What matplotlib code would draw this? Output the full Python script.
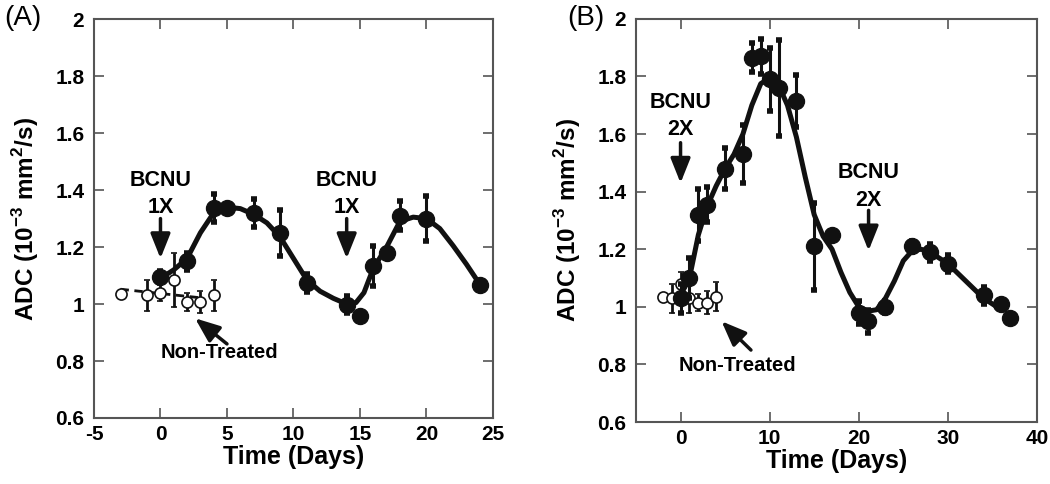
import numpy as np
import matplotlib.pyplot as plt

plt.rcParams['font.family'] = ['Liberation Sans', 'DejaVu Sans']
plt.rcParams['mathtext.fontset'] = 'custom'
plt.rcParams['mathtext.rm'] = 'Liberation Sans'
plt.rcParams['mathtext.bf'] = 'Liberation Sans:bold'

# ---- panel A data
a_days = [0, 2, 4, 5, 7, 9, 11, 14, 15, 16, 17, 18, 20, 24]
a_adc = [1.095, 1.15, 1.337, 1.337, 1.32, 1.25, 1.074, 0.997, 0.958, 1.133, 1.18, 1.31, 1.30, 1.067]
a_err = [0.02, 0.03, 0.05, 0.0, 0.05, 0.08, 0.03, 0.03, 0.0, 0.07, 0.0, 0.05, 0.08, 0.0]

a_nt_days = [-3, -1, 0, 1, 2, 3, 4]
a_nt_adc = [1.035, 1.03, 1.04, 1.085, 1.007, 1.007, 1.03]
a_nt_err = [0.01, 0.055, 0.03, 0.095, 0.03, 0.04, 0.055]
a_nt_fit_x = [-3, 3]
a_nt_fit_y = [1.052, 1.022]

a_curve_x = [0, 1, 2, 3, 4, 5, 6, 7, 8, 9, 10, 11, 12, 13, 14, 14.7, 15.3, 16, 17, 18, 19, 20, 21, 22, 23, 24]
a_curve_y = [1.09, 1.12, 1.16, 1.25, 1.32, 1.34, 1.335, 1.315, 1.285, 1.235, 1.16, 1.085, 1.045, 1.02, 1.0, 1.005, 1.04,
             1.125, 1.2, 1.29, 1.305, 1.30, 1.265, 1.205, 1.14, 1.07]

# ---- panel B data
b_days = [0, 1, 2, 3, 5, 7, 8, 9, 10, 11, 13, 15, 17, 20, 21, 23, 26, 28, 30, 34, 36, 37]
b_adc = [1.03, 1.10, 1.32, 1.355, 1.48, 1.53, 1.865, 1.87, 1.79, 1.76, 1.715, 1.21, 1.25, 0.98, 0.95, 1.0,
         1.21, 1.19, 1.15, 1.04, 1.01, 0.96]
b_err = [0.05, 0.07, 0.09, 0.06, 0.07, 0.10, 0.05, 0.06, 0.11, 0.165, 0.09, 0.15, 0.0, 0.04, 0.04, 0.02,
         0.02, 0.03, 0.03, 0.03, 0.0, 0.0]

b_nt_days = [-2, -1, 0, 1, 2, 3, 4]
b_nt_adc = [1.035, 1.03, 1.08, 1.03, 1.015, 1.015, 1.035]
b_nt_err = [0.01, 0.05, 0.04, 0.05, 0.03, 0.04, 0.05]

b_curve_x = [0, 1, 2, 3, 4, 5, 6, 7, 8, 9, 10, 11, 12, 13, 14, 15, 16, 17, 18, 19, 20, 21, 22, 23, 24, 25,
             26, 27, 28, 29, 30, 31, 32, 33, 34, 35, 36]
b_curve_y = [1.04, 1.10, 1.25, 1.35, 1.42, 1.48, 1.53, 1.60, 1.70, 1.775, 1.795, 1.77, 1.70, 1.59, 1.45,
             1.32, 1.245, 1.2, 1.12, 1.05, 1.0, 0.985, 0.99, 1.03, 1.09, 1.16, 1.195, 1.2, 1.19, 1.17,
             1.15, 1.12, 1.09, 1.06, 1.03, 1.01, 0.99]

fig = plt.figure(figsize=(10.5, 4.84), dpi=100)
axA = fig.add_axes([0.0895, 0.1364, 0.380, 0.824])
axB = fig.add_axes([0.6057, 0.128, 0.3819, 0.833])

spine_col = '#555555'
ink = '#111111'
arrow_style = '-|>,head_length=1.5,head_width=0.6'


def style(ax, xlim, xticks):
    ax.set_xlim(*xlim)
    ax.set_ylim(0.6, 2.0)
    ax.set_xticks(xticks)
    ax.set_yticks(np.arange(0.6, 2.01, 0.2))
    ax.set_yticklabels(['0.6', '0.8', '1', '1.2', '1.4', '1.6', '1.8', '2'])
    ax.set_xticklabels([str(t) for t in xticks])
    ax.tick_params(direction='in', top=True, right=True, length=7, width=1.2, color=spine_col,
                   labelsize=15, pad=7)
    ax.tick_params(axis='x', pad=5)
    for lab in ax.get_xticklabels() + ax.get_yticklabels():
        lab.set_fontweight('bold')
    for s in ax.spines.values():
        s.set_color(spine_col)
        s.set_linewidth(1.5)
    ax.set_xlabel('Time (Days)', fontsize=18, fontweight='bold', labelpad=1)
    ax.set_ylabel('ADC (10$^{\\mathbf{-3}}$ mm$^{\\mathbf{2}}$/s)', fontsize=17.5, fontweight='bold', labelpad=10)


def draw(ax, days, adc, err, nt_days, nt_adc, nt_err, cx, cy):
    ax.plot(cx, cy, color=ink, lw=3.6, solid_capstyle='round', solid_joinstyle='round', zorder=3)
    ax.errorbar(nt_days, nt_adc, yerr=nt_err, fmt='o', ms=8, mfc='white', mec=ink, mew=1.2,
                ecolor=ink, elinewidth=2, capsize=2.5, capthick=3.5, zorder=2)
    ax.errorbar(days, adc, yerr=err, fmt='o', ms=11.5, mfc=ink, mec=ink,
                ecolor=ink, elinewidth=2.2, capsize=2.5, capthick=4, zorder=4)


def arrow(ax, x, y0, y1):
    ax.annotate('', xy=(x, y1), xytext=(x, y0),
                arrowprops=dict(arrowstyle=arrow_style, color=ink, lw=2.5, shrinkA=0, shrinkB=0),
                zorder=5)


def label2(ax, x, y, top, bottom):
    ax.text(x, y, top, ha='center', va='center', fontsize=15.5, fontweight='bold')
    ax.text(x, y - 0.095, bottom, ha='center', va='center', fontsize=15.5, fontweight='bold')


style(axA, (-5, 25), [-5, 0, 5, 10, 15, 20, 25])
draw(axA, a_days, a_adc, a_err, a_nt_days, a_nt_adc, a_nt_err, a_curve_x, a_curve_y)
axA.plot(a_nt_fit_x, a_nt_fit_y, color=ink, lw=2, ls=(0, (3, 2)), zorder=2)
for x0 in (0, 14):
    label2(axA, x0, 1.435, 'BCNU', '1X')
    arrow(axA, x0, 1.30, 1.16)
axA.text(4.4, 0.83, 'Non-Treated', ha='center', va='center', fontsize=14.5, fontweight='bold')
axA.annotate('', xy=(2.6, 0.95), xytext=(5.0, 0.86),
             arrowprops=dict(arrowstyle=arrow_style, color=ink, lw=2.5, shrinkA=0, shrinkB=0))

style(axB, (-5, 40), [0, 10, 20, 30, 40])
draw(axB, b_days, b_adc, b_err, b_nt_days, b_nt_adc, b_nt_err, b_curve_x, b_curve_y)
label2(axB, 0, 1.71, 'BCNU', '2X')
arrow(axB, 0, 1.57, 1.43)
label2(axB, 21.1, 1.465, 'BCNU', '2X')
arrow(axB, 21.1, 1.335, 1.195)
axB.text(6.4, 0.795, 'Non-Treated', ha='center', va='center', fontsize=14.5, fontweight='bold')
axB.annotate('', xy=(4.6, 0.95), xytext=(7.9, 0.85),
             arrowprops=dict(arrowstyle=arrow_style, color=ink, lw=2.5, shrinkA=0, shrinkB=0))

fig.text(0.004, 0.962, '(A)', fontsize=20, va='center', ha='left')
fig.text(0.54, 0.962, '(B)', fontsize=20, va='center', ha='left')

fig.savefig('out.png', dpi=100)
